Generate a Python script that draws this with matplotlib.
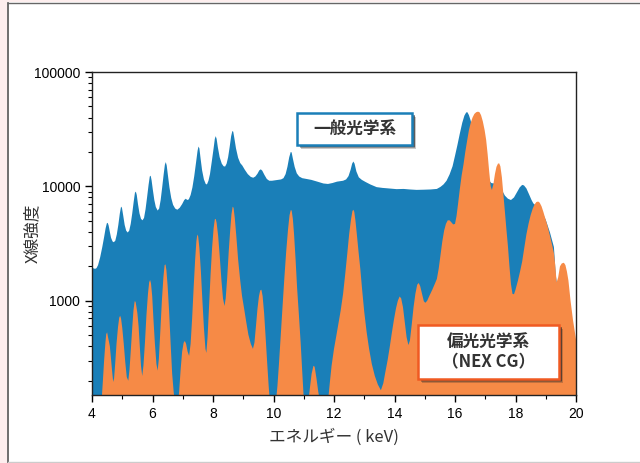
import matplotlib
matplotlib.use("Agg")
import matplotlib.pyplot as plt
from matplotlib.patches import Rectangle
from matplotlib.lines import Line2D
from matplotlib.ticker import FixedLocator, NullFormatter, FuncFormatter

plt.rcParams['font.family'] = ['Liberation Sans', 'Noto Sans CJK JP', 'DejaVu Sans']

# ---- data ----
blue_energy = [4.00, 4.05, 4.10, 4.15, 4.20, 4.27, 4.34, 4.40, 4.45, 4.49, 4.52, 4.55, 4.59, 4.63, 4.68, 4.72,
               4.77, 4.82, 4.87, 4.92, 4.96, 4.99, 5.03, 5.08, 5.13, 5.18, 5.23, 5.28, 5.33, 5.38, 5.42, 5.45,
               5.48, 5.52, 5.57, 5.62, 5.67, 5.72, 5.77, 5.82, 5.87, 5.91, 5.94, 5.97, 6.01, 6.06, 6.11, 6.17,
               6.22, 6.27, 6.32, 6.37, 6.41, 6.44, 6.47, 6.51, 6.56, 6.62, 6.68, 6.75, 6.82, 6.90, 6.98, 7.05,
               7.10, 7.15, 7.20, 7.26, 7.32, 7.38, 7.44, 7.49, 7.52, 7.55, 7.59, 7.64, 7.70, 7.76, 7.80, 7.85,
               7.90, 7.96, 8.02, 8.06, 8.09, 8.12, 8.16, 8.22, 8.29, 8.35, 8.40, 8.45, 8.50, 8.55, 8.60, 8.64,
               8.67, 8.71, 8.76, 8.83, 8.90, 8.97, 9.05, 9.15, 9.25, 9.33, 9.40, 9.47, 9.53, 9.58, 9.63, 9.70,
               9.78, 9.86, 9.95, 10.05, 10.15, 10.25, 10.33, 10.40, 10.46, 10.52, 10.57, 10.60, 10.64, 10.70,
               10.77, 10.85, 10.95, 11.10, 11.25, 11.45, 11.65, 11.80, 11.95, 12.10, 12.30, 12.40, 12.48, 12.55,
               12.60, 12.64, 12.68, 12.74, 12.82, 12.92, 13.05, 13.20, 13.41, 13.60, 13.80, 14.07, 14.30, 14.50,
               14.73, 14.95, 15.20, 15.40, 15.52, 15.62, 15.72, 15.82, 15.92, 16.00, 16.08, 16.16, 16.24, 16.31,
               16.37, 16.41, 16.46, 16.52, 16.60, 16.70, 16.80, 16.90, 17.00, 17.10, 17.20, 17.28, 17.36, 17.45,
               17.55, 17.65, 17.75, 17.85, 17.95, 18.05, 18.14, 18.22, 18.28, 18.36, 18.45, 18.53, 18.59, 18.70,
               18.85, 19.00, 19.14, 19.27, 19.33, 19.40, 19.60, 19.80, 20.00]
blue_counts = [1950, 1920, 1900, 1930, 2050, 2400, 2950, 3600, 4300, 4750, 4800, 4550, 4000, 3550, 3300, 3250,
               3350, 3800, 4600, 5800, 6650, 6500, 5600, 4600, 4100, 3950, 4100, 4700, 5800, 7400, 8800, 9000,
               8400, 7000, 5800, 5200, 5050, 5300, 6300, 8000, 10300, 12200, 12400, 11300, 9400, 7600, 6600, 6150,
               6400, 7600, 9800, 12800, 15500, 16300, 15200, 12500, 9800, 7900, 6900, 6400, 6250, 6500, 7000, 7600,
               7800, 7600, 7700, 8400, 9800, 12300, 16200, 20500, 22300, 21500, 17500, 13800, 11500, 10500, 10400, 11200,
               12800, 16500, 21500, 26000, 27500, 26000, 22000, 18000, 15800, 15000, 14900, 15800, 18000, 22000, 27500, 30500,
               30000, 26000, 21500, 17800, 16000, 15200, 14000, 12800, 12100, 11900, 12200, 12900, 13800, 14100, 13700, 12600,
               11600, 11200, 11200, 11300, 11400, 11500, 11800, 12800, 14800, 18000, 20000, 19800, 17500, 14800,
               13000, 12200, 11800, 11600, 11400, 11000, 10600, 10500, 10700, 11000, 11200, 11500, 12300, 14000,
               15800, 16500, 15800, 13500, 12000, 11400, 10900, 10400, 9850, 9700, 9600, 9460, 9500, 9400,
               9320, 9350, 9400, 9500, 9900, 10400, 11200, 12700, 15000, 18500, 23000, 29000, 36000, 41500,
               44300, 44500, 42000, 37500, 30000, 22000, 17000, 14500, 12800, 11500, 10700, 10600, 11200, 11000,
               9300, 8300, 7800, 7600, 8000, 8900, 9800, 10300, 10200, 9600, 8500, 7600, 7100, 6700,
               6200, 5100, 3950, 2950, 1700, 1200, 800, 450, 300]

orange_energy = [4.00, 4.30, 4.33, 4.36, 4.40, 4.44, 4.47, 4.50, 4.53, 4.56, 4.59, 4.62, 4.66, 4.70, 4.73, 4.77,
                 4.81, 4.86, 4.90, 4.93, 4.96, 5.00, 5.05, 5.10, 5.15, 5.20, 5.24, 5.28, 5.33, 5.37, 5.41, 5.44,
                 5.47, 5.50, 5.54, 5.58, 5.62, 5.66, 5.70, 5.75, 5.80, 5.85, 5.89, 5.92, 5.95, 5.99, 6.03, 6.08,
                 6.13, 6.17, 6.21, 6.26, 6.31, 6.36, 6.40, 6.43, 6.46, 6.50, 6.55, 6.60, 6.65, 6.70, 6.75, 6.84,
                 6.88, 6.93, 6.98, 7.03, 7.07, 7.11, 7.16, 7.21, 7.26, 7.31, 7.36, 7.41, 7.45, 7.48, 7.51, 7.55,
                 7.60, 7.65, 7.70, 7.75, 7.78, 7.82, 7.87, 7.92, 7.97, 8.02, 8.06, 8.09, 8.12, 8.17, 8.22, 8.28,
                 8.33, 8.38, 8.42, 8.47, 8.52, 8.57, 8.61, 8.65, 8.68, 8.72, 8.77, 8.83, 8.90, 8.96, 9.03, 9.10,
                 9.17, 9.25, 9.32, 9.37, 9.42, 9.47, 9.52, 9.56, 9.60, 9.64, 9.69, 9.74, 9.79, 9.84, 9.88, 10.08,
                 10.13, 10.18, 10.24, 10.30, 10.36, 10.42, 10.48, 10.53, 10.57, 10.60, 10.64, 10.68, 10.73, 10.78,
                 10.84, 10.90, 10.95, 11.00, 11.15, 11.20, 11.26, 11.32, 11.36, 11.42, 11.48, 11.54, 11.80, 11.86,
                 11.92, 12.00, 12.08, 12.15, 12.22, 12.30, 12.37, 12.44, 12.50, 12.56, 12.61, 12.64, 12.67, 12.71,
                 12.76, 12.81, 12.87, 12.93, 13.00, 13.08, 13.16, 13.25, 13.35, 13.45, 13.55, 13.63, 13.70, 13.77,
                 13.84, 13.91, 13.98, 14.05, 14.11, 14.17, 14.22, 14.28, 14.34, 14.40, 14.46, 14.51, 14.57, 14.63,
                 14.69, 14.75, 14.80, 14.85, 14.91, 14.97, 15.02, 15.08, 15.15, 15.25, 15.33, 15.40, 15.46, 15.52,
                 15.58, 15.64, 15.70, 15.76, 15.82, 15.88, 15.94, 16.00, 16.05, 16.10, 16.16, 16.22, 16.28, 16.34,
                 16.40, 16.46, 16.52, 16.58, 16.64, 16.70, 16.76, 16.81, 16.86, 16.92, 16.98, 17.03, 17.08, 17.13,
                 17.18, 17.22, 17.27, 17.32, 17.37, 17.42, 17.46, 17.50, 17.55, 17.60, 17.65, 17.70, 17.75, 17.80,
                 17.85, 17.90, 17.95, 18.00, 18.08, 18.15, 18.22, 18.29, 18.36, 18.43, 18.50, 18.57, 18.63, 18.69,
                 18.75, 18.80, 18.86, 18.92, 18.98, 19.05, 19.15, 19.22, 19.27, 19.31, 19.36, 19.41, 19.47, 19.53,
                 19.60, 19.65, 19.70, 19.75, 19.82, 19.90, 20.00]
orange_counts = [100, 110, 150, 200, 300, 420, 510, 530, 480, 440, 400, 330, 250, 195, 210, 290,
                 420, 590, 710, 740, 700, 580, 420, 290, 215, 200, 250, 360, 580, 820, 990, 980,
                 880, 780, 600, 400, 270, 220, 270, 430, 750, 1150, 1450, 1520, 1420, 1100, 700, 420,
                 280, 245, 310, 550, 1000, 1600, 2050, 2080, 1850, 1350, 800, 420, 230, 160, 120, 120,
                 160, 250, 360, 430, 445, 420, 360, 330, 420, 700, 1300, 2300, 3300, 3800, 3650, 2900,
                 1800, 1000, 580, 380, 350, 480, 900, 1700, 2900, 4300, 5150, 5200, 4800, 3700, 2500, 1500,
                 1050, 900, 1050, 1600, 2700, 4200, 5700, 6650, 6500, 5300, 3700, 2300, 1500, 1100, 850, 650,
                 505, 420, 380, 430, 600, 850, 1100, 1230, 1250, 1100, 780, 480, 290, 180, 130, 130,
                 180, 280, 500, 900, 1600, 2700, 4200, 5600, 6200, 6150, 5200, 3800, 2300, 1300,
                 750, 420, 240, 140, 130, 170, 230, 270, 265, 210, 160, 130, 130, 190,
                 270, 380, 500, 640, 820, 1150, 1700, 2600, 3800, 5100, 6100, 6250, 6000, 5000,
                 3700, 2700, 1900, 1250, 800, 530, 380, 280, 220, 185, 165, 190, 240, 300,
                 390, 520, 680, 860, 1000, 1090, 1050, 880, 650, 480, 410, 450, 620, 880,
                 1150, 1380, 1430, 1340, 1150, 990, 960, 1000, 1100, 1250, 1400, 1550, 1900, 2500,
                 3300, 4100, 4700, 5050, 5050, 4850, 4650, 4700, 5500, 7000, 9500, 12500, 15500, 20000,
                 25000, 31000, 36000, 40000, 43000, 44500, 45000, 44500, 42000, 37000, 31000, 25500, 19000, 13500,
                 10000, 9300, 10500, 12800, 14800, 15800, 15900, 15000, 12000, 8500, 6000, 4200, 3000, 2000,
                 1400, 1150, 1140, 1250, 1500, 1800, 2200, 2900, 3800, 4700, 5600, 6400, 6950, 7300,
                 7370, 7200, 6700, 6000, 5300, 4600, 3600, 3000, 2600, 2100, 1450, 1600, 2000, 2120,
                 2150, 2050, 1800, 1500, 1000, 680, 460]

x_ticks = [4, 6, 8, 10, 12, 14, 16, 18, 20]
y_ticks = [1000, 10000, 100000]
y_tick_labels = ["1000", "10000", "100000"]
x_label = "エネルギー ( keV)"
y_label = "X線強度"
label_blue = "一般光学系"
label_orange = "偏光光学系\n（NEX CG）"

BLUE = "#1a7fb8"
ORANGE = "#f68a46"
TXT = "#333333"

fig = plt.figure(figsize=(6.4, 4.63), dpi=100)
fig.patch.set_facecolor("white")

# outer decoration (pink margin + frame lines)
fig.patches.append(Rectangle((0, 0), 7/640, 1, transform=fig.transFigure, facecolor="#fdeeee", edgecolor="none", zorder=0))
fig.patches.append(Rectangle((0, 1 - 2/463), 1, 2/463, transform=fig.transFigure, facecolor="#fdeeee", edgecolor="none", zorder=0))
fig.lines.append(Line2D([7.5/640, 7.5/640], [0, 1 - 2.5/463], transform=fig.transFigure, color="#555555", lw=1.2))
fig.lines.append(Line2D([7.5/640, 1], [1 - 2.5/463, 1 - 2.5/463], transform=fig.transFigure, color="#666666", lw=1.0))
fig.lines.append(Line2D([8/640, 1], [1.2/463, 1.2/463], transform=fig.transFigure, color="#cccccc", lw=1.0))

ax = fig.add_axes([92/640, (463-395)/463, 484/640, 323/463])
ax.set_yscale("log")
ax.fill_between(blue_energy, 1, blue_counts, color=BLUE, lw=0, zorder=1)
ax.fill_between(orange_energy, 1, orange_counts, color=ORANGE, lw=0, zorder=2)
ax.set_xlim(4, 20)
ax.set_ylim(150, 100000)

ax.xaxis.set_major_locator(FixedLocator(x_ticks))
ax.xaxis.set_minor_locator(FixedLocator([5, 7, 9, 11, 13, 15, 17, 19]))
ax.yaxis.set_major_locator(FixedLocator(y_ticks))
ax.yaxis.set_major_formatter(FuncFormatter(lambda v, p: y_tick_labels[y_ticks.index(round(v))] if round(v) in y_ticks else ""))
minors = [m * d for d in (100, 1000, 10000) for m in range(2, 10)]
ax.yaxis.set_minor_locator(FixedLocator(minors))
ax.yaxis.set_minor_formatter(NullFormatter())
ax.tick_params(axis="both", which="major", direction="out", length=5, width=1, labelsize=10, colors="black")
ax.tick_params(axis="both", which="minor", direction="out", length=3, width=0.8)
ax.tick_params(axis="x", pad=4)
for s in ax.spines.values():
    s.set_linewidth(1.0)
    s.set_color("#222222")
    s.set_zorder(5)

ax.set_xlabel(x_label, fontsize=12, color=TXT, family=["Noto Sans CJK JP", "DejaVu Sans"], labelpad=5)
ax.set_ylabel(y_label, fontsize=12, color=TXT, family=["Noto Sans CJK JP", "DejaVu Sans"])
ax.yaxis.set_label_coords(-0.105, 0.5)


def labelbox(x0, y0, x1, y1, edge, text, fs):
    # pixel coordinates (top-left origin) -> figure fraction
    fx, fy = x0/640, (463 - y1)/463
    fw, fh = (x1 - x0)/640, (y1 - y0)/463
    for k, a in enumerate([0.25, 0.35, 0.5]):
        off = 4 - k
        fig.patches.append(Rectangle((fx + off/640 + (k - 1)*0.5/640, fy - off/463), fw, fh,
                                     transform=fig.transFigure, facecolor="#2a2a2a",
                                     edgecolor="none", alpha=a, zorder=6))
    fig.patches.append(Rectangle((fx, fy), fw, fh, transform=fig.transFigure, facecolor="white",
                                 edgecolor=edge, lw=1.8, zorder=7))
    fig.text(fx + fw/2, fy + fh/2, text, ha="center", va="center", fontsize=fs, color=TXT,
             fontweight="bold", family=["Noto Sans CJK JP", "DejaVu Sans"], linespacing=1.15, zorder=8)


labelbox(297, 113, 412, 145, BLUE, label_blue, 12)
labelbox(418, 325, 559, 379, "#f05a22", label_orange, 12)

fig.savefig("out.png", dpi=100)
